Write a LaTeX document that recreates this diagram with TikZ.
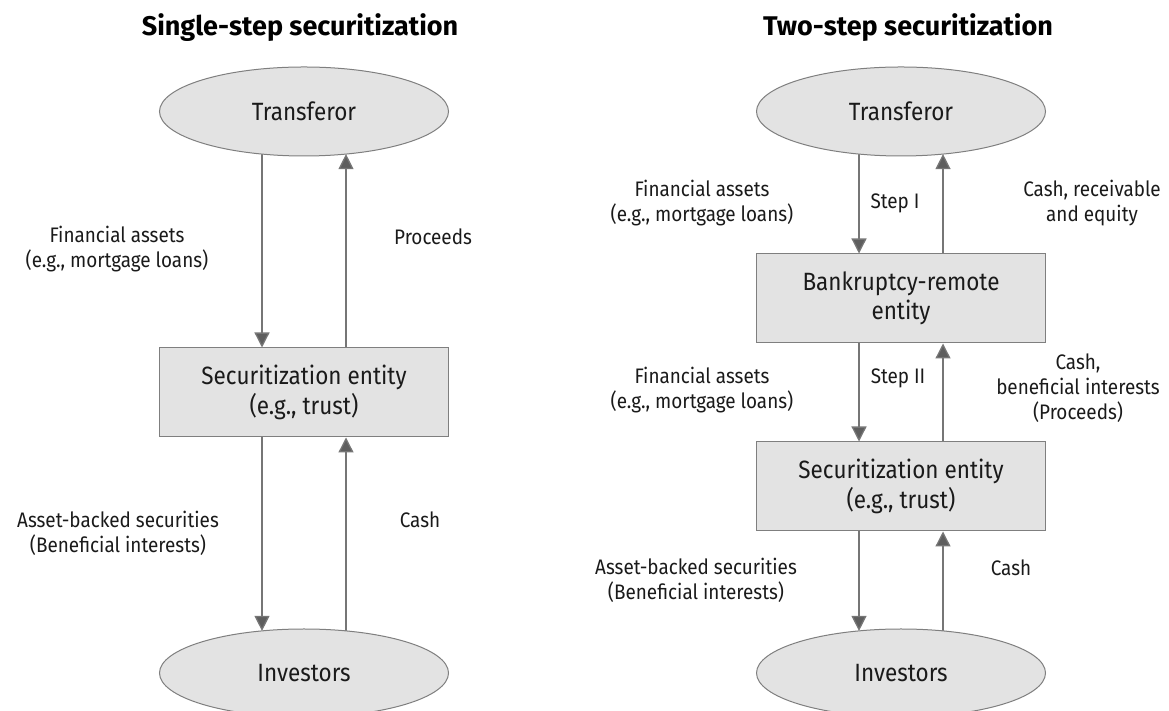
\documentclass[tikz,border=0pt]{standalone}
\usepackage{fontspec}
\setmainfont{Fira Sans}[FakeStretch=0.9]
\newfontfamily\titlefont{Fira Sans}
\usetikzlibrary{arrows.meta,shapes.geometric,backgrounds}
\definecolor{boxfill}{HTML}{E3E3E3}
\definecolor{linegray}{HTML}{7F7F7F}
\definecolor{arrgray}{HTML}{767676}
\definecolor{headgray}{HTML}{5E5E5E}
\definecolor{txt}{HTML}{1A1A1A}
\begin{document}
\begin{tikzpicture}[x=1pt,y=1pt,
  ent/.style={draw=linegray, fill=boxfill, line width=1pt, minimum width=289pt,
    minimum height=89pt, inner sep=0pt, align=center, text=txt,
    font=\fontsize{25}{29.5}\selectfont},
  oval/.style={ent, ellipse},
  box/.style={ent, rectangle},
  lbl/.style={align=center, inner sep=0pt, text=txt, font=\fontsize{21}{25}\selectfont},
  ttl/.style={inner sep=0pt, text=black, font=\titlefont\bfseries\fontsize{27}{32}\selectfont},
  flow/.style={draw=arrgray, line width=1.3pt,
    -{Triangle[width=15pt,length=15pt,fill=headgray]}}
]
\useasboundingbox (0,0) rectangle (1169,711);

% titles
\node[ttl] (tL) at (300,683) {Single-step securitization};
\node[ttl] (tR) at (908,683) {Two-step securitization};

% left panel nodes
\node[oval] (TL) at (304,599.5) {Transferor};
\node[box]  (BL) at (304,318.5) {Securitization entity\\(e.g., trust)};
\node[oval, minimum height=88pt] (IL) at (304,38) {Investors};

% right panel nodes
\node[oval] (TR) at (901,599.5) {Transferor};
\node[box]  (KR) at (901,412.5) {Bankruptcy-remote\\entity};
\node[box]  (SR) at (901,224.5) {Securitization entity\\(e.g., trust)};
\node[oval, minimum height=88pt] (IR) at (901,38) {Investors};

% connectors
\begin{scope}[on background layer]
  \draw[flow] ([xshift=-42pt]TL.center) -- ([xshift=-42pt]BL.north);
  \draw[flow] ([xshift=42pt]BL.north) -- ([xshift=42pt,yshift=-42.6pt]TL.center);
  \draw[flow] ([xshift=-42pt]BL.south) -- ([xshift=-42pt,yshift=42.1pt]IL.center);
  \draw[flow] ([xshift=42pt]IL.center) -- ([xshift=42pt]BL.south);

  \draw[flow] ([xshift=-42pt]TR.center) -- ([xshift=-42pt]KR.north);
  \draw[flow] ([xshift=42pt]KR.north) -- ([xshift=42pt,yshift=-42.6pt]TR.center);
  \draw[flow] ([xshift=-42pt]KR.south) -- ([xshift=-42pt]SR.north);
  \draw[flow] ([xshift=42pt]SR.north) -- ([xshift=42pt]KR.south);
  \draw[flow] ([xshift=-42pt]SR.south) -- ([xshift=-42pt,yshift=42.1pt]IR.center);
  \draw[flow] ([xshift=42pt]IR.center) -- ([xshift=42pt]SR.south);
\end{scope}

% left labels
\node[lbl] (lFA)   at (117,461.5) {Financial assets\\(e.g., mortgage loans)};
\node[lbl] (lPro)  at (433,474)   {Proceeds};
\node[lbl] (lABS)  at (118,178)   {Asset-backed securities\\(Beneficial interests)};
\node[lbl] (lCash) at (420,191)   {Cash};

% right labels
\node[lbl] (rFA1)   at (702,507.5) {Financial assets\\(e.g., mortgage loans)};
\node[lbl] (rStep1) at (895,508)   {Step I};
\node[lbl] (rCash1) at (1092,508)  {Cash, receivable\\and equity};
\node[lbl] (rFA2)   at (702,320.5) {Financial assets\\(e.g., mortgage loans)};
\node[lbl] (rStep2) at (898,333)   {Step II};
\node[lbl] (rCash2) at (1078,323)  {Cash,\\beneficial interests\\(Proceeds)};
\node[lbl] (rABS)   at (696,130.5) {Asset-backed securities\\(Beneficial interests)};
\node[lbl] (rCash3) at (1011,143)  {Cash};
\end{tikzpicture}
\end{document}
